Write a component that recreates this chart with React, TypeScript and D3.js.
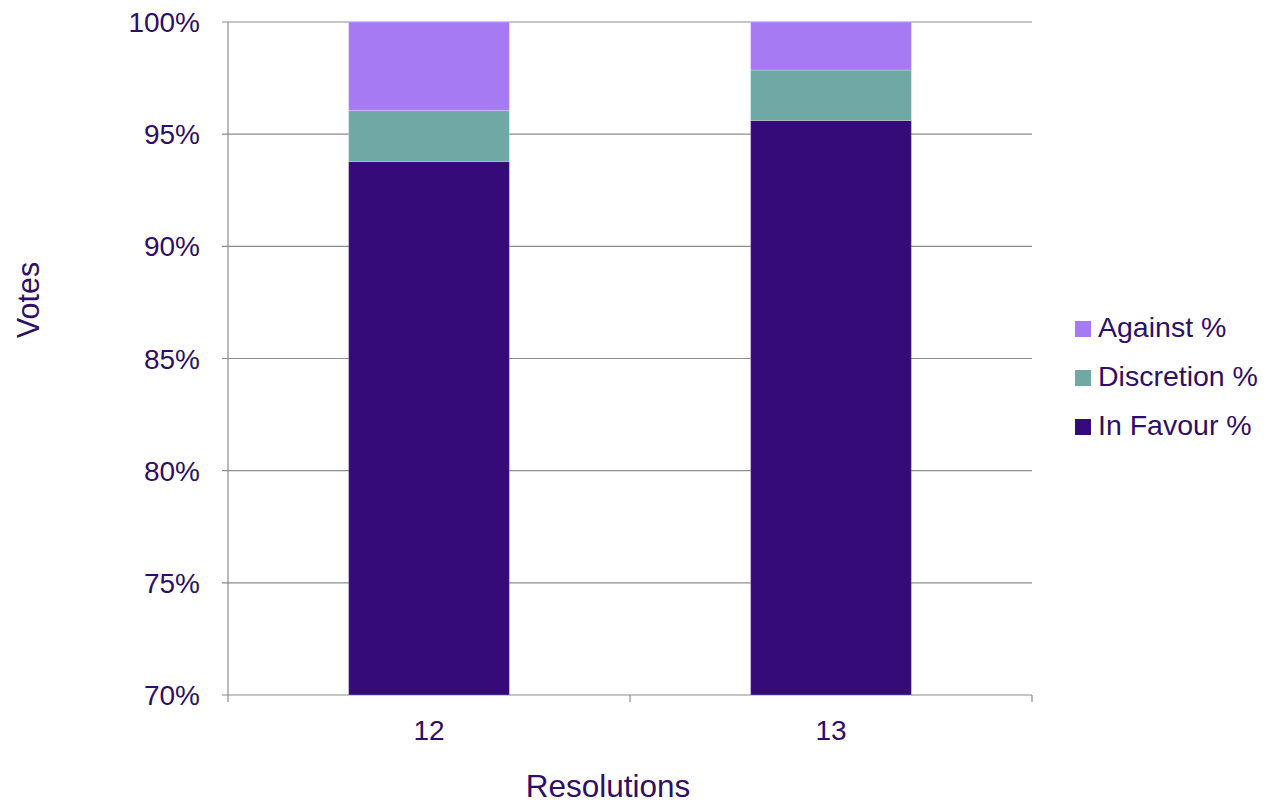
import React from "react";
import * as d3 from "d3";

const categories = ["12", "13"];
const seriesNames = ["In Favour %", "Discretion %", "Against %"];
const inFavour = [93.78, 95.61];
const discretion = [2.27, 2.25];
const against = [3.95, 2.14];
const yTicks = [70, 75, 80, 85, 90, 95, 100];
const colors = ["#350B7A", "#6FA8A5", "#A67AF3"];

const W = 1265;
const H = 803;
const M = { left: 228, right: 1032, top: 22, bottom: 695 };
const FONT = "Liberation Sans, Arial, sans-serif";
const TEXT = "#2F0E68";
const GRID = "#8C8C8C";

export default function App() {
  const x = d3
    .scaleBand<string>()
    .domain(categories)
    .range([M.left, M.right])
    .paddingInner(0.6)
    .paddingOuter(0.3);
  const y = d3.scaleLinear().domain([70, 100]).range([M.bottom, M.top]);

  const rows = categories.map((c, i) => ({
    cat: c,
    "In Favour %": inFavour[i],
    "Discretion %": discretion[i],
    "Against %": against[i],
  }));
  const stacked = d3.stack<any>().keys(seriesNames)(rows);

  const step = x.step();
  const boundaries = [M.left, ...categories.map((c) => (x(c) as number) - step * 0.3 + step)];

  const legendOrder = [2, 1, 0];

  return (
    <svg
      width={W}
      height={H}
      style={{ position: "absolute", left: 0, top: 0, background: "#fff" }}
    >
      {/* gridlines */}
      {yTicks.map((t) => (
        <line
          key={"g" + t}
          x1={M.left - 6}
          x2={M.right}
          y1={y(t)}
          y2={y(t)}
          stroke={GRID}
          strokeWidth={1.2}
        />
      ))}
      {/* y axis line */}
      <line x1={M.left} x2={M.left} y1={M.top} y2={M.bottom} stroke={GRID} strokeWidth={1.2} />
      {/* x tick marks */}
      {boundaries.map((b, i) => (
        <line key={"xt" + i} x1={b} x2={b} y1={M.bottom} y2={M.bottom + 7} stroke={GRID} strokeWidth={1.2} />
      ))}
      {/* bars */}
      {stacked.map((s, si) =>
        s.map((d, di) => {
          const y0 = Math.max(d[0], 70);
          const y1 = Math.min(d[1], 100);
          return (
            <rect
              key={si + "-" + di}
              x={x(categories[di]) as number}
              width={x.bandwidth()}
              y={y(y1)}
              height={y(y0) - y(y1)}
              fill={colors[si]}
              stroke="#ffffff"
              strokeOpacity={0.25}
              strokeWidth={1}
            />
          );
        })
      )}
      {/* y labels */}
      {yTicks.map((t) => (
        <text
          key={"yl" + t}
          x={200}
          y={y(t) + 10}
          textAnchor="end"
          fontFamily={FONT}
          fontSize={28}
          fill={TEXT}
        >
          {t + "%"}
        </text>
      ))}
      {/* x labels */}
      {categories.map((c) => (
        <text
          key={"xl" + c}
          x={(x(c) as number) + x.bandwidth() / 2}
          y={740}
          textAnchor="middle"
          fontFamily={FONT}
          fontSize={28}
          fill={TEXT}
        >
          {c}
        </text>
      ))}
      {/* axis titles */}
      <text
        x={608}
        y={797}
        textAnchor="middle"
        fontFamily={FONT}
        fontSize={31.5}
        fill={TEXT}
      >
        Resolutions
      </text>
      <text
        transform="translate(39,300) rotate(-90)"
        textAnchor="middle"
        fontFamily={FONT}
        fontSize={30.5}
        fill={TEXT}
      >
        Votes
      </text>
      {/* legend */}
      {legendOrder.map((si, i) => (
        <g key={"lg" + si} transform={`translate(1075, ${321 + i * 49})`}>
          <rect width={16} height={16} fill={colors[si]} />
          <text x={23} y={16} fontFamily={FONT} fontSize={28.5} fill={TEXT}>
            {seriesNames[si]}
          </text>
        </g>
      ))}
    </svg>
  );
}
